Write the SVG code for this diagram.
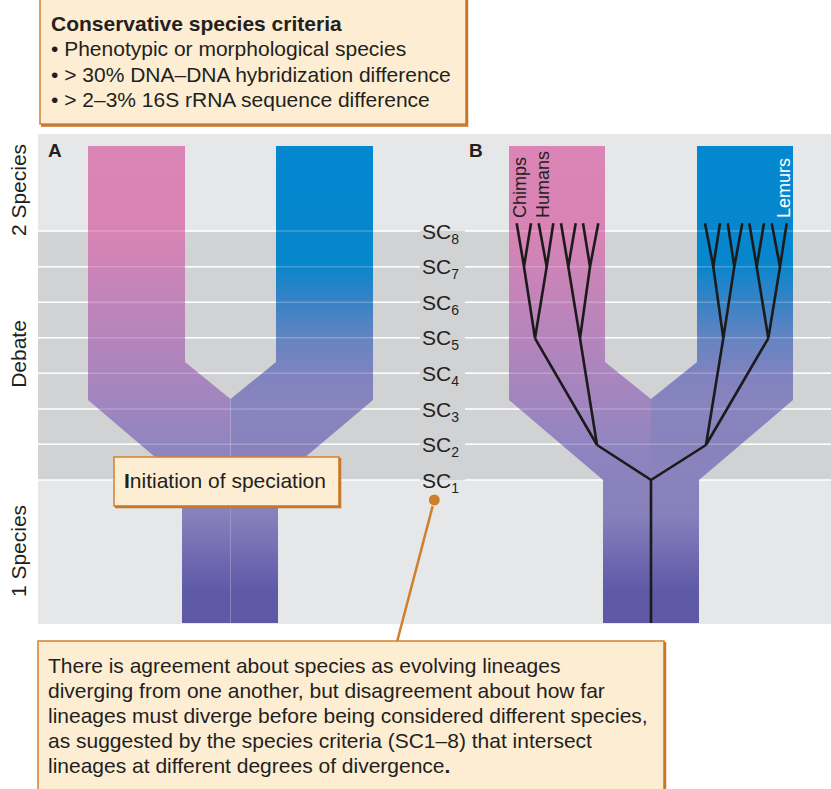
<svg xmlns="http://www.w3.org/2000/svg" width="831" height="789" viewBox="0 0 831 789">
<defs>
<linearGradient id="gPink" gradientUnits="userSpaceOnUse" x1="0" y1="146" x2="0" y2="480">
<stop offset="0" stop-color="#db84b5"/>
<stop offset="0.25" stop-color="#d983b5"/>
<stop offset="0.46" stop-color="#c184b9"/>
<stop offset="0.76" stop-color="#a285bf"/>
<stop offset="0.9" stop-color="#9084c0"/>
<stop offset="1" stop-color="#8a82bc"/>
</linearGradient>
<linearGradient id="gBlue" gradientUnits="userSpaceOnUse" x1="0" y1="146" x2="0" y2="480">
<stop offset="0" stop-color="#0388d0"/>
<stop offset="0.35" stop-color="#0786cc"/>
<stop offset="0.47" stop-color="#3a82c6"/>
<stop offset="0.58" stop-color="#6584c1"/>
<stop offset="0.68" stop-color="#7f83bf"/>
<stop offset="0.76" stop-color="#8784be"/>
<stop offset="1" stop-color="#8a82bc"/>
</linearGradient>
<linearGradient id="gStem" gradientUnits="userSpaceOnUse" x1="0" y1="480" x2="0" y2="623">
<stop offset="0" stop-color="#8a82bc"/>
<stop offset="0.25" stop-color="#8780bb"/>
<stop offset="0.55" stop-color="#7069b1"/>
<stop offset="0.78" stop-color="#5f5aa6"/>
<stop offset="1" stop-color="#5e58a5"/>
</linearGradient>
<style>
text{font-family:"Liberation Sans",Arial,sans-serif;fill:#231f20}
.box{fill:#fdedd3;stroke:#d4812f;stroke-width:1.5}
.shadow{stroke:#c8762a;stroke-width:2.5;fill:none}
.grid{stroke:#ffffff;stroke-width:1.6}
.gridover{stroke:#ffffff;stroke-width:1.6;stroke-opacity:0.22}
.tree{stroke:#1c1a1b;stroke-width:2.6;fill:none;stroke-linejoin:miter;stroke-linecap:butt}
.sc{font-size:21px}
.sub{font-size:14px}
.axis{font-size:21px}
.leaf{font-size:18px}
.body{font-size:21px}
.crit{font-size:21px}
</style>
</defs>

<g id="background">
<rect x="38" y="134" width="793" height="490" fill="#e6e7e8"/>
<rect x="38" y="231" width="793" height="249" fill="#d1d2d4"/>
<g class="grid">
<path d="M38 231H420M465 231H831M38 266.7H420M465 266.7H831M38 302.3H420M465 302.3H831M38 337.7H420M465 337.7H831M38 373.3H420M465 373.3H831M38 409H420M465 409H831M38 444.3H420M465 444.3H831M38 480H420M465 480H831"/>
</g>
</g>

<g id="panelA">
<polygon points="88,146 185,146 185,362 230.5,399 230.5,480 182,480 88,400" fill="url(#gPink)"/>
<polygon points="276,146 373,146 373,400 278,480 230.5,480 230.5,399 276,362" fill="url(#gBlue)"/>
<rect x="182" y="480" width="96" height="143" fill="url(#gStem)"/>
<line x1="230.5" y1="399" x2="230.5" y2="623" stroke="#b9b4dc" stroke-width="1" stroke-opacity="0.45"/>
<text x="48" y="157" font-size="19" font-weight="bold">A</text>
</g>

<g id="panelB">
<polygon points="509,146 605,146 605,362 651,399 651,480 603,480 509,400" fill="url(#gPink)"/>
<polygon points="697,146 793,146 793,400 699,480 651,480 651,399 697,362" fill="url(#gBlue)"/>
<rect x="603" y="480" width="96" height="143" fill="url(#gStem)"/>
<text x="469" y="157" font-size="19" font-weight="bold">B</text>
</g>

<g id="gridOverlay" class="gridover">
<path d="M38 231H420M465 231H831M38 266.7H420M465 266.7H831M38 302.3H420M465 302.3H831M38 337.7H420M465 337.7H831M38 373.3H420M465 373.3H831M38 409H420M465 409H831M38 444.3H420M465 444.3H831"/>
</g>

<g id="axisLabels">
<text class="axis" transform="translate(26,190) rotate(-90)" text-anchor="middle">2 Species</text>
<text class="axis" transform="translate(26,354) rotate(-90)" text-anchor="middle">Debate</text>
<text class="axis" transform="translate(26,551) rotate(-90)" text-anchor="middle">1 Species</text>
</g>

<g id="scLabels">
<text class="sc" x="422" y="238.5">SC<tspan class="sub" dy="5">8</tspan></text>
<text class="sc" x="422" y="274.2">SC<tspan class="sub" dy="5">7</tspan></text>
<text class="sc" x="422" y="309.8">SC<tspan class="sub" dy="5">6</tspan></text>
<text class="sc" x="422" y="345.2">SC<tspan class="sub" dy="5">5</tspan></text>
<text class="sc" x="422" y="380.8">SC<tspan class="sub" dy="5">4</tspan></text>
<text class="sc" x="422" y="416.5">SC<tspan class="sub" dy="5">3</tspan></text>
<text class="sc" x="422" y="451.8">SC<tspan class="sub" dy="5">2</tspan></text>
<text class="sc" x="422" y="487.5">SC<tspan class="sub" dy="5">1</tspan></text>
</g>

<g id="leafLabels">
<text class="leaf" transform="translate(526,218) rotate(-90)">Chimps</text>
<text class="leaf" transform="translate(548.5,218) rotate(-90)">Humans</text>
<text class="leaf" transform="translate(790,218) rotate(-90)" style="fill:#ffffff">Lemurs</text>
</g>

<g id="connectors">
<g class="tree">
<path d="M651 623V480L597 445M651 480L706 445"/>
<path d="M597 445L535 338.3M597 445L580 338.3"/>
<path d="M535 338.3L524 266.7M535 338.3L546.7 266.7M580 338.3L568.3 266.7M580 338.3L590 266.7"/>
<path d="M516.7 223.3L524 266.7L531 223.3M538.7 223.3L546.7 266.7L553.3 223.3M561 223.3L568.3 266.7L575.7 223.3M583 223.3L590 266.7L598.3 223.3"/>
<path d="M706 445L723.3 338.3M706 445L768.3 338.3"/>
<path d="M723.3 338.3L713.3 266.7M723.3 338.3L734.3 266.7M768.3 338.3L756.7 266.7M768.3 338.3L780 266.7"/>
<path d="M705 223.3L713.3 266.7L720 223.3M727.7 223.3L734.3 266.7L742.3 223.3M749.3 223.3L756.7 266.7L764 223.3M771.7 223.3L780 266.7L786.7 223.3"/>
</g>
<line x1="434.3" y1="500" x2="397" y2="642" stroke="#d07f2f" stroke-width="2.5"/>
<circle cx="434.3" cy="500" r="6" fill="#d07f2f" stroke="#f3f0ea" stroke-width="1"/>
</g>

<g id="criteriaBox">
<rect class="box" x="40" y="-2" width="426" height="126"/>
<path class="shadow" d="M467 0V125.5H41"/>
<text class="crit" x="51" y="30.5" font-weight="bold">Conservative species criteria</text>
<text class="crit" x="51" y="56">• Phenotypic or morphological species</text>
<text class="crit" x="51" y="81.5">• &gt; 30% DNA–DNA hybridization difference</text>
<text class="crit" x="51" y="107">• &gt; 2–3% 16S rRNA sequence difference</text>
</g>

<g id="initiationBox">
<rect class="box" x="114" y="457" width="225" height="49"/>
<path class="shadow" d="M340 458V507H115"/>
<text x="124" y="488" font-size="21"><tspan font-weight="bold">I</tspan>nitiation of speciation</text>
</g>

<g id="explanationBox">
<rect class="box" x="38" y="641" width="626" height="150"/>
<path class="shadow" d="M665 642V789"/>
<text class="body" x="48" y="673">There is agreement about species as evolving lineages</text>
<text class="body" x="48" y="698">diverging from one another, but disagreement about how far</text>
<text class="body" x="48" y="723">lineages must diverge before being considered different species,</text>
<text class="body" x="48" y="748">as suggested by the species criteria (SC1–8) that intersect</text>
<text class="body" x="48" y="773">lineages at different degrees of divergence<tspan font-weight="bold">.</tspan></text>
</g>
</svg>
